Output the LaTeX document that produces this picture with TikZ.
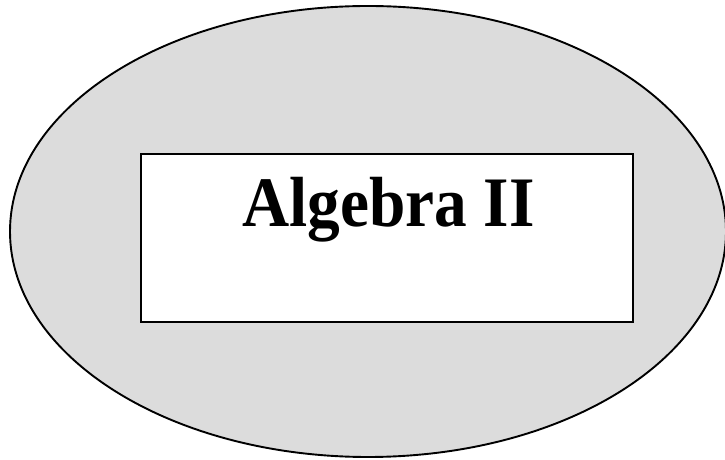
\documentclass[tikz,border=0pt]{standalone}
\usepackage{fontspec}
\setmainfont{Liberation Serif}
\usetikzlibrary{shapes.geometric}
\definecolor{ovalgray}{RGB}{220,220,220}
\tikzset{
  oval/.style={ellipse, draw=black, fill=ovalgray, line width=1.9pt, inner sep=0pt},
  titlebox/.style={rectangle, draw=black, fill=white, line width=2pt, inner sep=0pt},
  titletext/.style={font=\fontsize{71}{71}\selectfont\bfseries, inner sep=0pt}
}
\begin{document}
\begin{tikzpicture}[x=1pt,y=1pt]
\useasboundingbox (0,0) rectangle (725,460);
\node[oval, minimum width=716pt, minimum height=451pt] (oval) at (368,228.5) {};
\node[titlebox, minimum width=492pt, minimum height=168pt] (box) at (387,222) {};
\node[titletext, anchor=base] (title) at (388.5,233) {\scalebox{0.92}[1]{Algebra II}};
\end{tikzpicture}
\end{document}
